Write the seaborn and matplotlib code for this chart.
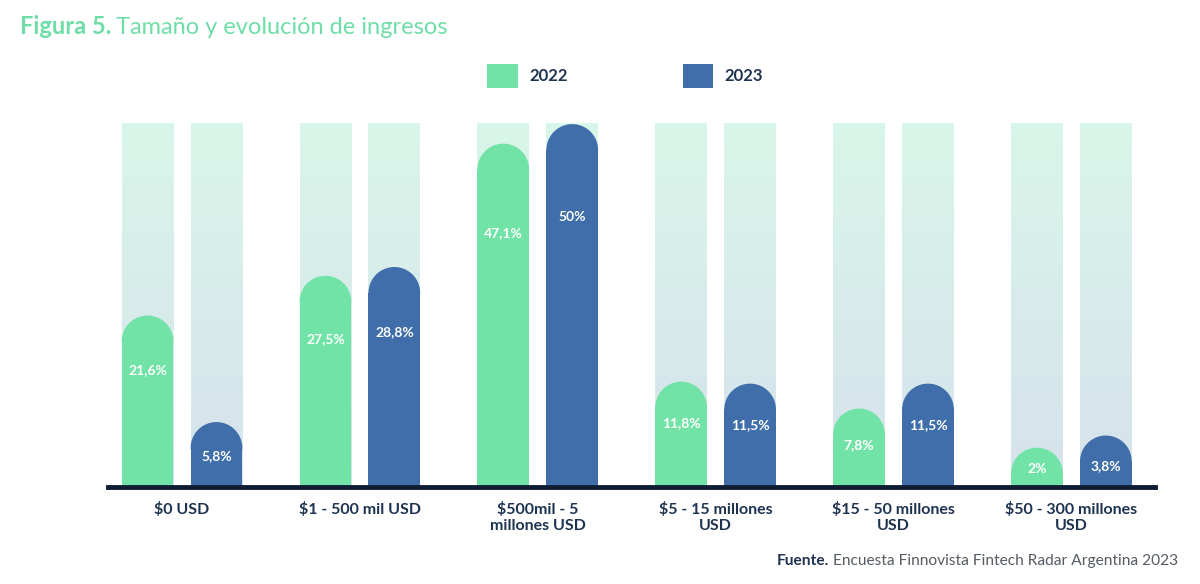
import pandas as pd
import numpy as np
import matplotlib.pyplot as plt
import seaborn as sns
from matplotlib.patches import Polygon

categories = ["$0 USD", "$1 - 500 mil USD", "$500mil - 5\nmillones USD",
              "$5 - 15 millones\nUSD", "$15 - 50 millones\nUSD", "$50 - 300 millones\nUSD"]
years = ["2022", "2023"]
values_2022 = [21.6, 27.5, 47.1, 11.8, 7.8, 2.0]
values_2023 = [5.8, 28.8, 50.0, 11.5, 11.5, 3.8]
labels_2022 = ["21,6%", "27,5%", "47,1%", "11,8%", "7,8%", "2%"]
labels_2023 = ["5,8%", "28,8%", "50%", "11,5%", "11,5%", "3,8%"]

green = "#72e3a6"
blue = "#3f6eab"
navy = "#1e3350"

df = pd.DataFrame({
    "cat": categories * 2,
    "year": [years[0]] * 6 + [years[1]] * 6,
    "val": values_2022 + values_2023,
})

sns.set_style("white")
plt.rcParams["font.family"] = ["Lato", "DejaVu Sans"]

fig = plt.figure(figsize=(12, 5.84), dpi=100)
ax = fig.add_axes([108 / 1200, 97 / 584, 1047 / 1200, 364 / 584])

sns.barplot(data=df, x="cat", y="val", hue="year", order=categories, hue_order=years,
            palette=[green, blue], width=0.775, gap=0.25, ax=ax, saturation=1,
            linewidth=0, edgecolor="none")

xlim = (-0.416, 5.47)
ytop = 54.0
ax.set_xlim(*xlim)
ax.set_ylim(0, ytop)

# pixel scales for the rounded caps
pxx = 1047 / (xlim[1] - xlim[0])
pxy = 364 / ytop

# gradient background columns
grad = np.linspace(0, 1, 256).reshape(-1, 1)
top_c = np.array([0.85, 0.965, 0.915])
bot_c = np.array([0.84, 0.885, 0.925])
img = (bot_c[None, None, :] * (1 - grad[..., None]) + top_c[None, None, :] * grad[..., None])

theta = np.linspace(0, np.pi, 60)
labels = [labels_2022, labels_2023]
for cont, labs in zip(ax.containers, labels):
    for bar, lab in zip(cont, labs):
        x, w, h = bar.get_x(), bar.get_width(), bar.get_height()
        ax.imshow(img, extent=[x, x + w, 0, ytop], aspect="auto", origin="lower", zorder=0)
        bar.set_zorder(2)
        ry = (w * pxx / 2) / pxy
        pts = np.column_stack([x + w / 2 + (w / 2) * np.cos(theta), h + ry * np.sin(theta)])
        pts = np.vstack([pts, [[x, h - 0.2], [x + w, h - 0.2]]])
        cap = Polygon(pts, closed=True, facecolor=bar.get_facecolor(),
                      edgecolor="none", linewidth=0, zorder=2)
        ax.add_patch(cap)
        ax.text(x + w / 2, max(0.8 * h, 2.7), lab, ha="center", va="center",
                color="white", fontsize=10, fontweight="bold", zorder=3)

ax.set_xlim(*xlim)
ax.set_ylim(0, ytop)

sns.despine(ax=ax, left=True)
ax.spines["bottom"].set_color("#0f1d33")
ax.spines["bottom"].set_linewidth(3.5)
ax.spines["bottom"].set_zorder(5)
ax.set_yticks([])
ax.set_xlabel("")
ax.set_ylabel("")
ax.tick_params(axis="x", length=0, pad=11)
for t in ax.get_xticklabels():
    t.set_fontsize(11.5)
    t.set_fontweight("bold")
    t.set_color(navy)
    t.set_linespacing(1.12)
    t.set_verticalalignment("top")

sns.move_legend(ax, "center", bbox_to_anchor=(625 / 1200, 1 - 76 / 584),
                bbox_transform=fig.transFigure, ncol=2, frameon=False, title=None,
                handlelength=1.85, handleheight=1.85, handletextpad=0.65,
                columnspacing=6.9, fontsize=12)
for t in ax.get_legend().get_texts():
    t.set_fontweight("bold")
    t.set_color(navy)

# title
fig.canvas.draw()
r = fig.canvas.get_renderer()
t1 = fig.text(20 / 1200, 1 - 27 / 584, "Figura 5.", fontsize=17, fontweight="bold",
              color="#6fdea6", va="center")
bb = t1.get_window_extent(r)
fig.text((bb.x1 + 5) / 1200, 1 - 27 / 584, "Tamaño y evolución de ingresos",
         fontsize=17, color="#6fdea6", va="center")

# source
s2 = fig.text(1178 / 1200, 1 - 561 / 584, "Encuesta Finnovista Fintech Radar Argentina 2023",
              fontsize=11.2, color="#555b63", ha="right", va="center")
bb = s2.get_window_extent(r)
fig.text((bb.x0 - 4) / 1200, 1 - 561 / 584, "Fuente.", fontsize=11.2, fontweight="bold",
         color=navy, ha="right", va="center")

fig.savefig("out.png", dpi=100)
